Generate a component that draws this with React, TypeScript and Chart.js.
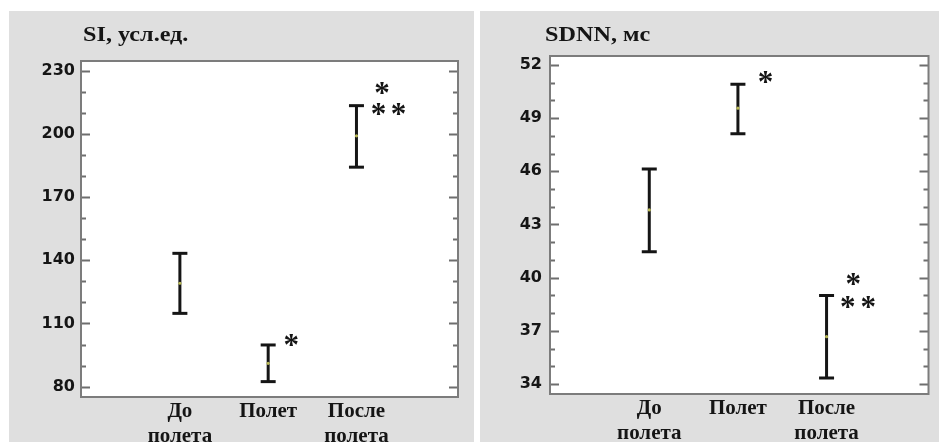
import React, { useEffect, useRef } from 'react';
import { Chart, registerables } from 'chart.js';

Chart.register(...registerables);

// ---------- data ----------
const categoryLabels = [['До', 'полета'], ['Полет'], ['После', 'полета']];
const categoryX = [1, 2, 3];

// SI, усл.ед.
const siMean = [129.1, 91.1, 199.1];
const siLow = [114.8, 82.4, 184.2];
const siHigh = [143.3, 99.8, 213.4];
const siMajorTicks = [80, 110, 140, 170, 200, 230];
const siStarX = [2.26, 3.29, 3.25, 3.475];
const siStarY = [102.2, 221.6, 211.8, 211.8];

// SDNN, мс
const sdnnMean = [43.82, 49.56, 36.67];
const sdnnLow = [41.46, 48.11, 34.34];
const sdnnHigh = [46.13, 50.91, 39.0];
const sdnnMajorTicks = [34, 37, 40, 43, 46, 49, 52];
const sdnnStarX = [2.31, 3.3, 3.24, 3.47];
const sdnnStarY = [51.34, 39.92, 38.64, 38.64];

type PanelCfg = {
  title: string;
  mean: number[];
  low: number[];
  high: number[];
  majorTicks: number[];
  minorStep: number;
  yMin: number;
  yMax: number;
  starX: number[];
  starY: number[];
  left: number;
  top: number;
  width: number;
  height: number;
  plotLeft: number;
  plotTop: number;
  plotRight: number;
  plotBottom: number;
  labelPad: number;
  titleDx: number;
  titleY: number;
};

const INK = '#151515';

const decorPlugin = {
  id: 'decor',
  beforeDraw(chart: any) {
    const { ctx, chartArea: a } = chart;
    ctx.save();
    ctx.fillStyle = '#ffffff';
    ctx.fillRect(a.left, a.top, a.right - a.left, a.bottom - a.top);
    ctx.restore();
  },
  afterDraw(chart: any, _args: any, opts: any) {
    const { ctx, chartArea: a } = chart;
    const xs = chart.scales.x;
    const ys = chart.scales.y;
    ctx.save();
    // ticks (inside, both sides)
    ctx.strokeStyle = '#6e6e6e';
    ctx.lineWidth = 2;
    ys.ticks.forEach((t: any) => {
      const py = Math.round(ys.getPixelForValue(t.value)) + 0.5;
      const major = opts.majorTicks.includes(t.value);
      const len = major ? 9 : 5;
      ctx.beginPath();
      ctx.moveTo(a.left, py);
      ctx.lineTo(a.left + len, py);
      ctx.moveTo(a.right - len, py);
      ctx.lineTo(a.right, py);
      ctx.stroke();
    });
    // frame
    ctx.strokeStyle = '#7c7c7c';
    ctx.lineWidth = 2;
    ctx.strokeRect(a.left, a.top, a.right - a.left, a.bottom - a.top);
    // significance stars
    ctx.fillStyle = INK;
    ctx.font = 'bold 31px "Liberation Serif"';
    ctx.textAlign = 'center';
    ctx.textBaseline = 'alphabetic';
    const m = ctx.measureText('*');
    const off = (m.actualBoundingBoxAscent - m.actualBoundingBoxDescent) / 2;
    opts.starX.forEach((sx: number, i: number) => {
      const px = xs.getPixelForValue(sx);
      const py = ys.getPixelForValue(opts.starY[i]) + off;
      ctx.fillText('*', px, py);
    });
    // title (slightly widened like the reference)
    ctx.font = 'bold 22px "Liberation Serif"';
    ctx.textAlign = 'left';
    ctx.translate(a.left + opts.titleDx, opts.titleY);
    ctx.scale(1.1, 1);
    ctx.fillText(opts.title, 0, 0);
    ctx.restore();
  },
};

function Panel({ cfg }: { cfg: PanelCfg }) {
  const ref = useRef<HTMLCanvasElement | null>(null);
  useEffect(() => {
    if (!ref.current) return;
    const datasets: any[] = [];
    datasets.push({
      label: 'mean',
      data: categoryX.map((x, i) => ({ x, y: cfg.mean[i] })),
      pointRadius: 1.6,
      pointBackgroundColor: '#b9b957',
      pointBorderWidth: 0,
      showLine: false,
    });
    categoryX.forEach((x, i) => {
      datasets.push({
        label: 'err' + i,
        data: [
          { x, y: cfg.low[i] },
          { x, y: cfg.high[i] },
        ],
        showLine: true,
        borderColor: INK,
        borderWidth: 3,
        pointStyle: 'line',
        pointRadius: 7.5,
        pointHoverRadius: 7.5,
        pointBorderWidth: 3,
        pointBorderColor: INK,
        pointBackgroundColor: INK,
        tension: 0,
      });
    });
    const ticksList: number[] = [];
    const lo = cfg.majorTicks[0];
    const hi = cfg.majorTicks[cfg.majorTicks.length - 1];
    for (let k = 0; lo + k * cfg.minorStep <= hi + 1e-9; k++) ticksList.push(lo + k * cfg.minorStep);

    const chart = new Chart(ref.current, {
      type: 'scatter',
      data: { datasets },
      plugins: [decorPlugin as any],
      options: {
        animation: false,
        responsive: false,
        events: [],
        devicePixelRatio: 1,
        layout: {
          padding: {
            left: 0,
            top: cfg.plotTop,
            right: cfg.width - cfg.plotRight,
            bottom: 0,
          },
        },
        plugins: {
          legend: { display: false },
          tooltip: { enabled: false },
          decor: {
            majorTicks: cfg.majorTicks,
            starX: cfg.starX,
            starY: cfg.starY,
            title: cfg.title,
            titleDx: cfg.titleDx,
            titleY: cfg.titleY,
          },
        } as any,
        scales: {
          x: {
            type: 'linear',
            min: -0.12,
            max: 4.15,
            grid: { display: false, drawTicks: false },
            border: { display: false },
            afterBuildTicks: (s: any) => {
              s.ticks = categoryX.map((v) => ({ value: v }));
            },
            afterFit: (s: any) => {
              s.height = cfg.height - cfg.plotBottom;
            },
            ticks: {
              autoSkip: false,
              maxRotation: 0,
              minRotation: 0,
              padding: 3,
              color: INK,
              font: { family: '"Liberation Serif"', weight: 'bold', size: 21, lineHeight: 1.15 },
              callback: (_v: any, i: number) => categoryLabels[i],
            },
          },
          y: {
            type: 'linear',
            min: cfg.yMin,
            max: cfg.yMax,
            grid: { display: false, drawTicks: false },
            border: { display: false },
            afterBuildTicks: (s: any) => {
              s.ticks = ticksList.map((v) => ({ value: v }));
            },
            afterFit: (s: any) => {
              s.width = cfg.plotLeft;
            },
            ticks: {
              autoSkip: false,
              padding: cfg.labelPad,
              color: INK,
              font: { family: '"DejaVu Sans"', weight: 'bold', size: 16 },
              callback: (v: any) => (cfg.majorTicks.includes(v) ? String(v) : ''),
            },
          },
        },
      } as any,
    });
    return () => chart.destroy();
  }, [cfg]);
  return (
    <canvas
      ref={ref}
      width={cfg.width}
      height={cfg.height}
      style={{
        position: 'absolute',
        left: cfg.left,
        top: cfg.top,
        width: cfg.width,
        height: cfg.height,
        background: '#dfdfdf',
      }}
    />
  );
}

const siCfg: PanelCfg = {
  title: 'SI, усл.ед.',
  mean: siMean,
  low: siLow,
  high: siHigh,
  majorTicks: siMajorTicks,
  minorStep: 10,
  yMin: 75.1,
  yMax: 234.6,
  starX: siStarX,
  starY: siStarY,
  left: 9,
  top: 11,
  width: 465,
  height: 431,
  plotLeft: 72,
  plotTop: 50,
  plotRight: 449,
  plotBottom: 386,
  labelPad: 6,
  titleDx: 2,
  titleY: 30,
};

const sdnnCfg: PanelCfg = {
  title: 'SDNN, мс',
  mean: sdnnMean,
  low: sdnnLow,
  high: sdnnHigh,
  majorTicks: sdnnMajorTicks,
  minorStep: 1,
  yMin: 33.44,
  yMax: 52.5,
  starX: sdnnStarX,
  starY: sdnnStarY,
  left: 480,
  top: 11,
  width: 459,
  height: 431,
  plotLeft: 70,
  plotTop: 45,
  plotRight: 450,
  plotBottom: 383,
  labelPad: 8,
  titleDx: -5,
  titleY: 30,
};

export default function App() {
  return (
    <div
      style={{
        position: 'absolute',
        left: 0,
        top: 0,
        width: 939,
        height: 442,
        background: '#ffffff',
        overflow: 'hidden',
      }}
    >
      <Panel cfg={siCfg} />
      <Panel cfg={sdnnCfg} />
    </div>
  );
}
